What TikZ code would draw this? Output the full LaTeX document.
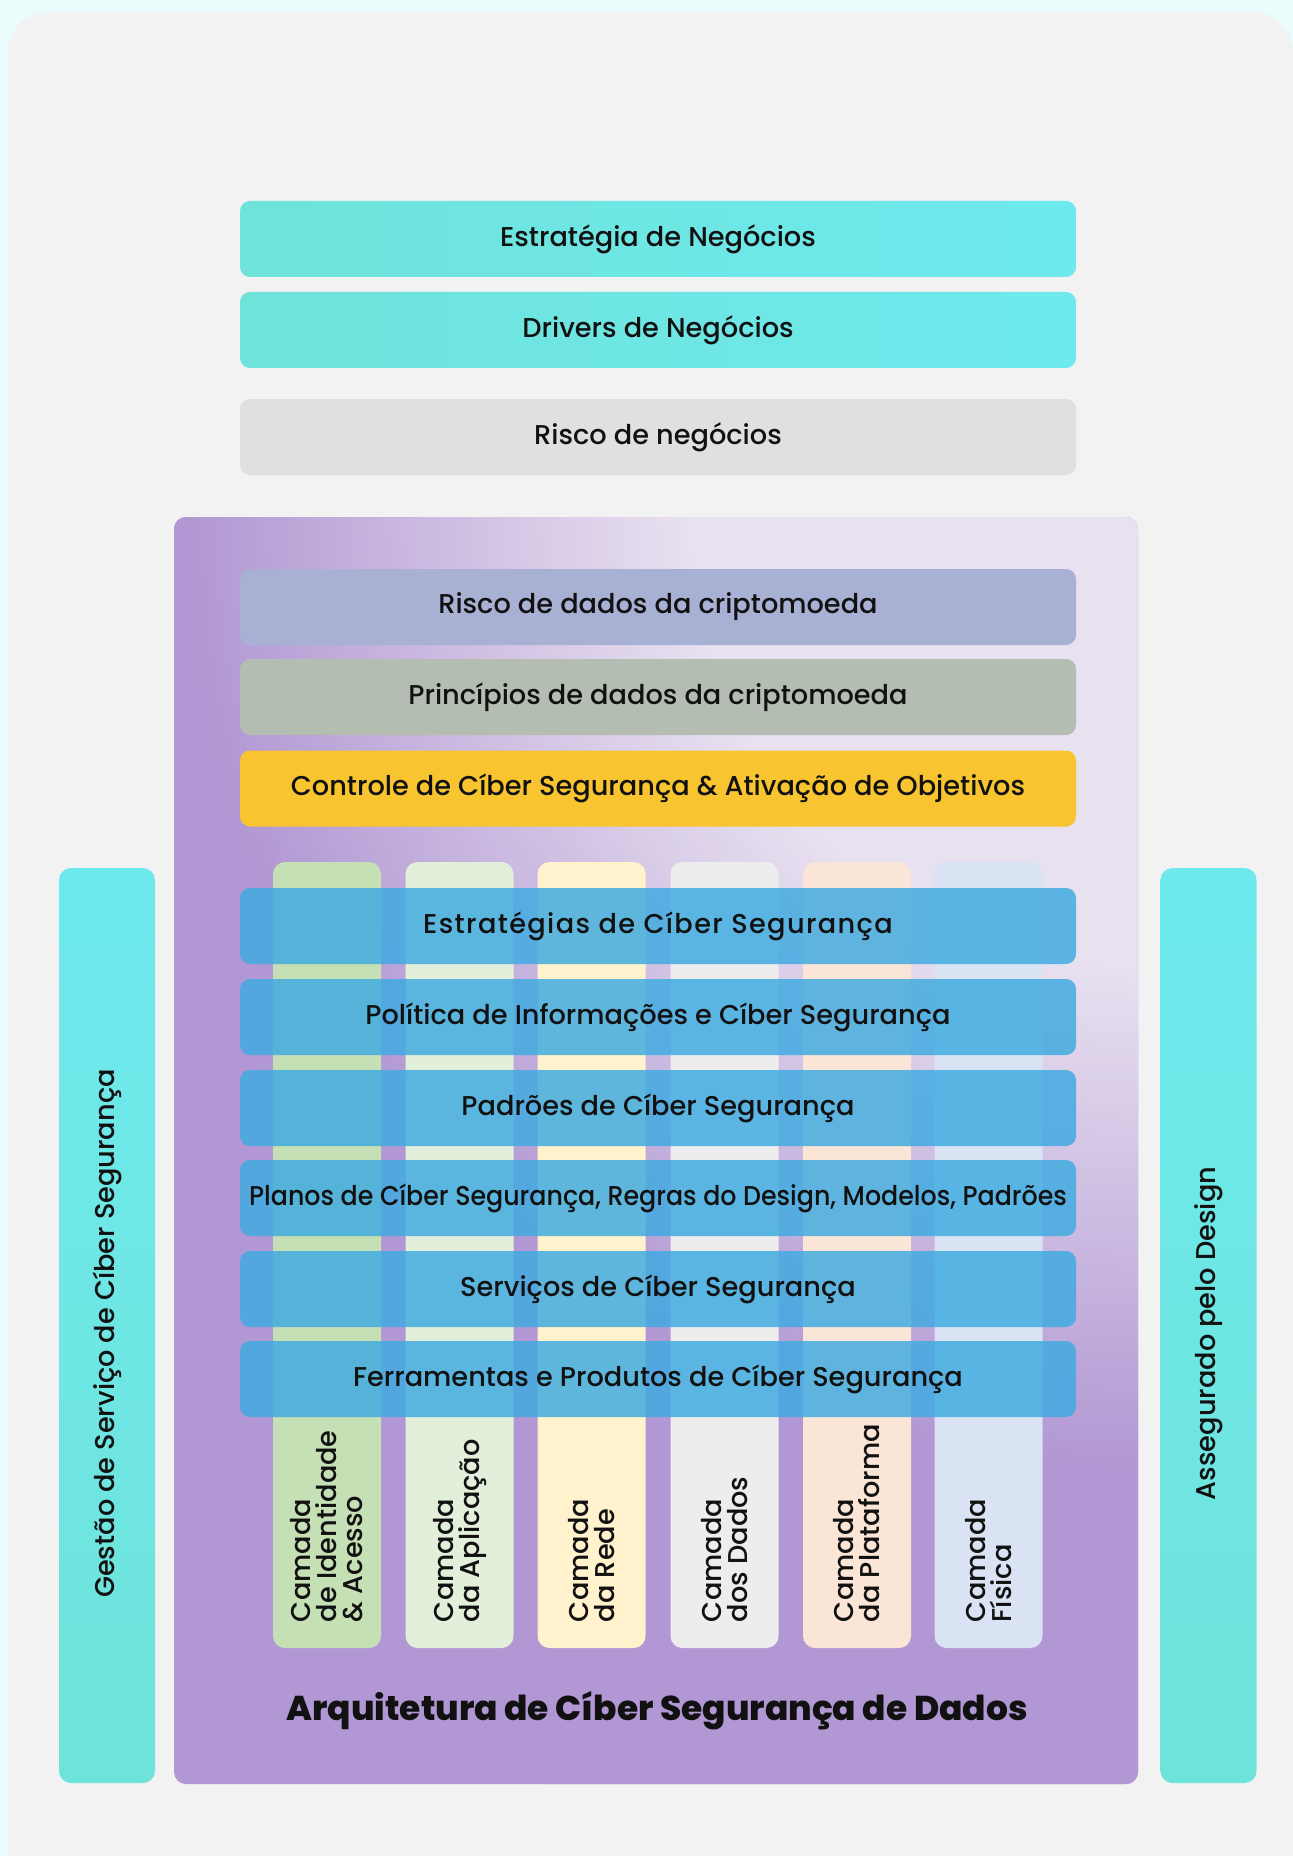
\documentclass[tikz,border=0pt]{standalone}
\usepackage{fontspec}
\setmainfont{Poppins Medium}[BoldFont={Poppins ExtraBold}]
\usetikzlibrary{positioning}

\definecolor{fundo}{HTML}{EAFCFC}
\definecolor{cartao}{HTML}{F2F2F2}
\definecolor{cianoA}{HTML}{6EE3DA}
\definecolor{cianoB}{HTML}{6EE9EE}
\definecolor{cinza}{HTML}{E0E0E0}
\definecolor{roxo}{HTML}{B197D3}
\definecolor{roxoclaro}{HTML}{E8E1F0}
\definecolor{lilas}{HTML}{A8B0D4}
\definecolor{salvia}{HTML}{B4BDB1}
\definecolor{amarelo}{HTML}{F8C530}
\definecolor{azulfaixa}{HTML}{40ABE1}
\definecolor{camA}{HTML}{C5E0B4}
\definecolor{camB}{HTML}{E2EFDA}
\definecolor{camC}{HTML}{FFF2CC}
\definecolor{camD}{HTML}{EDEDED}
\definecolor{camE}{HTML}{FBE5D6}
\definecolor{camF}{HTML}{DAE3F3}
\definecolor{texto}{HTML}{111111}

\pgfdeclareradialshading{brilho}{\pgfpoint{0bp}{0bp}}{color(0bp)=(roxoclaro); color(8bp)=(roxoclaro); color(17bp)=(roxo); color(50bp)=(roxo)}

\tikzset{
  faixa/.style={rounded corners=5pt, minimum width=418pt, minimum height=38pt, inner sep=0pt, text=texto, font=\fontsize{13.6}{15}\selectfont},
  ciano/.style={faixa, left color=cianoA, right color=cianoB},
  azul/.style={faixa, fill=azulfaixa, fill opacity=0.84, text opacity=1},
  camada/.style={rounded corners=6pt, minimum width=54pt, minimum height=393pt, inner sep=0pt},
  rotulo/.style={rotate=90, anchor=west, align=left, inner sep=0pt, text=texto, font=\fontsize{13.6}{13}\selectfont},
  lateral/.style={rounded corners=6pt, minimum width=48pt, minimum height=457.5pt, inner sep=0pt, top color=cianoB, bottom color=cianoA},
  vertical/.style={rotate=90, text=texto, font=\fontsize{13.6}{15}\selectfont},
}

\begin{document}
\begin{tikzpicture}[x=0.5pt, y=-0.5pt]
\useasboundingbox (0,0) rectangle (1293,1856);
\fill[fundo] (0,0) rectangle (1293,1856);
\fill[cartao, rounded corners=20pt] (8,12) rectangle (1293,1900);

% topo
\node[ciano] (estrategia) at (658,239) {Estratégia de Negócios};
\node[ciano] (drivers) at (658,330) {Drivers de Negócios};
\node[faixa, fill=cinza] (risco) at (658,437) {Risco de negócios};

% painel roxo
\node[rounded corners=6pt, minimum width=482pt, minimum height=633.5pt, fill=roxo,
  path picture={\shade[shading=brilho] (path picture bounding box.north east) circle (700pt);}] (painel) at (656,1150.5) {};

\node[faixa, fill=lilas] (riscodados) at (658,607) {Risco de dados da criptomoeda};
\node[faixa, fill=salvia] (principios) at (658,697) {Princípios de dados da criptomoeda};
\node[faixa, fill=amarelo] (controle) at (658,788.5) {Controle de Cíber Segurança \& Ativação de Objetivos};

% camadas
\node[camada, fill=camA] (identidade) at (327,1255) {};
\node[camada, fill=camB] (aplicacao) at (459.5,1255) {};
\node[camada, fill=camC] (rede) at (591.5,1255) {};
\node[camada, fill=camD] (dados) at (724.5,1255) {};
\node[camada, fill=camE] (plataforma) at (857,1255) {};
\node[camada, fill=camF] (fisica) at (988.5,1255) {};

\node[rotulo] (tidentidade) at ([yshift=13pt]identidade.south) {Camada\\de Identidade\\\& Acesso};
\node[rotulo] (taplicacao) at ([yshift=13pt]aplicacao.south) {Camada\\da Aplicação};
\node[rotulo] (trede) at ([yshift=13pt]rede.south) {Camada\\da Rede};
\node[rotulo] (tdados) at ([yshift=13pt]dados.south) {Camada\\dos Dados};
\node[rotulo] (tplataforma) at ([yshift=13pt]plataforma.south) {Camada\\da Plataforma};
\node[rotulo] (tfisica) at ([yshift=13pt]fisica.south) {Camada\\Física};

% faixas azuis
\node[azul] (estrategias) at (658,926) {\addfontfeature{LetterSpace=5}Estratégias de Cíber Segurança};
\node[azul] (politica) at (658,1017) {Política de Informações e Cíber Segurança};
\node[azul] (padroes) at (658,1108) {Padrões de Cíber Segurança};
\node[azul] (planos) at (658,1198) {\scalebox{0.93}[1]{Planos de Cíber Segurança, Regras do Design, Modelos, Padrões}};
\node[azul] (servicos) at (658,1289) {Serviços de Cíber Segurança};
\node[azul] (ferramentas) at (658,1379) {Ferramentas e Produtos de Cíber Segurança};

\node[text=texto, font=\fontsize{17.2}{19}\selectfont\bfseries] (titulo) at (657,1711) {Arquitetura de Cíber Segurança de Dados};

% laterais
\node[lateral] (gestao) at (107,1325.5) {};
\node[vertical] (tgestao) at ([yshift=-4pt]gestao.center) {Gestão de Serviço de Cíber Segurança};
\node[lateral] (assegurado) at (1208.5,1325.5) {};
\node[vertical] (tassegurado) at ([yshift=-4pt]assegurado.center) {Assegurado pelo Design};

\end{tikzpicture}
\end{document}
